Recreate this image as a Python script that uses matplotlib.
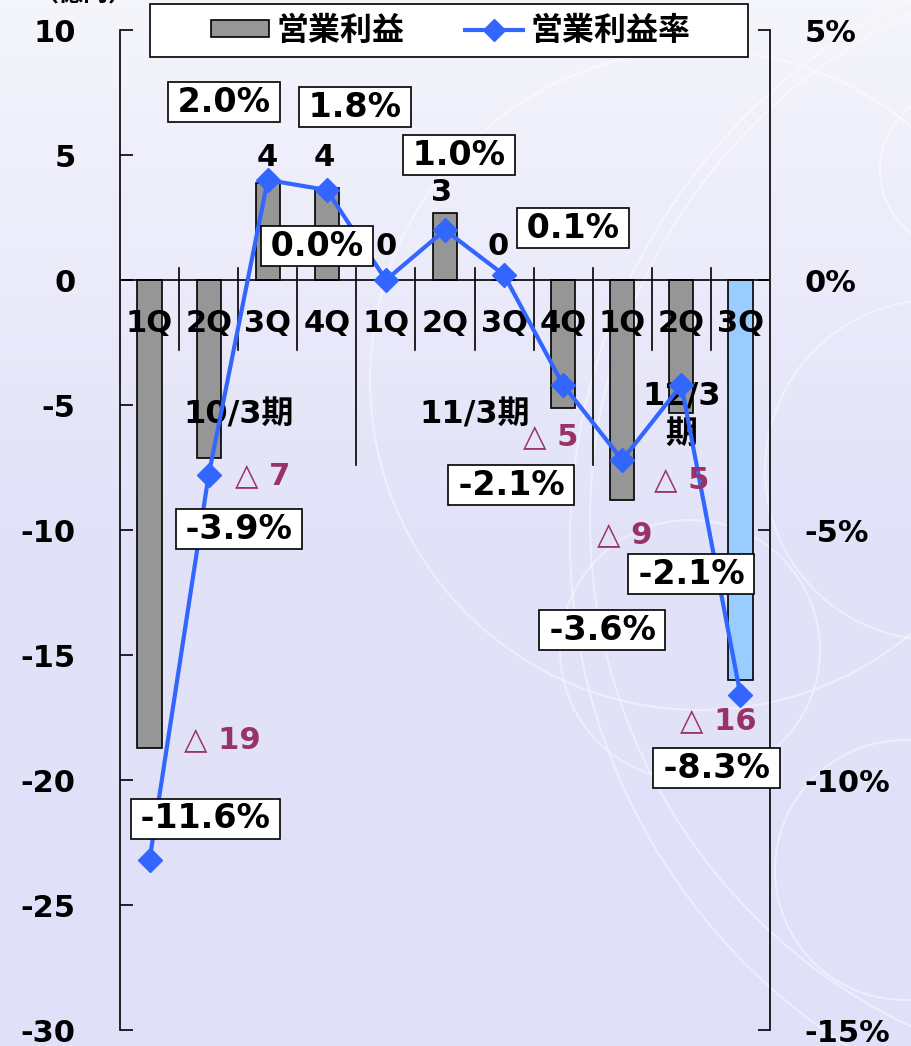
import numpy as np
import matplotlib
matplotlib.use("Agg")
import matplotlib.pyplot as plt
from matplotlib.patches import Patch, Circle, Rectangle
from matplotlib.lines import Line2D
from matplotlib.colors import LinearSegmentedColormap

plt.rcParams['font.family'] = ['DejaVu Sans', 'Noto Sans CJK JP']
plt.rcParams['font.weight'] = 'bold'
plt.rcParams['axes.unicode_minus'] = False

# data
quarters = ['1Q', '2Q', '3Q', '4Q', '1Q', '2Q', '3Q', '4Q', '1Q', '2Q', '3Q']
groups = ['10/3期', '11/3期', '12/3\n期']
group_ranges = [(0, 4), (4, 8), (8, 11)]
profit = [-18.7, -7.1, 3.9, 3.7, 0.0, 2.7, 0.0, -5.1, -8.8, -5.3, -16.0]   # 億円
margin = [-11.6, -3.9, 2.0, 1.8, 0.0, 1.0, 0.1, -2.1, -3.6, -2.1, -8.3]   # %

# label offsets (pixels) relative to the point / bar end
margin_off = [(56, 41), (30, -54), (-44, 78), (28, 83), (-69, 34), (14, 75),
              (69, 47), (-52, -100), (-20, -170), (10, -189), (-24, -73)]
profit_off = [(73, 8), (54, -18), (0, 25), (-3, 30), (0, 34), (-3, 20),
              (-6, 34), (-12, -29), (2, -35), (0, -67), (-22, -41)]

bar_colors = ['#969696'] * 10 + ['#99CCFF']
line_col = '#3366FF'
neg_col = '#993366'

fig = plt.figure(figsize=(9.12, 10.46), dpi=100)

# background
bg = fig.add_axes([0, 0, 1, 1], zorder=-5)
cmap = LinearSegmentedColormap.from_list('bg', ['#F5F5FC', '#E2E2F9', '#E0E0F8'])
grad = np.linspace(0, 1, 256).reshape(-1, 1)
bg.imshow(grad, aspect='auto', cmap=cmap, extent=[0, 912, 1046, 0])
for cx, cy, r in [(960, 170, 80), (935, 470, 170), (905, 870, 130), (690, 650, 130),
                  (1150, 520, 560), (1170, 540, 600), (700, 380, 330)]:
    bg.add_patch(Circle((cx, cy), r, fill=False, ec='white', lw=1.5, alpha=0.45))
bg.set_xlim(0, 912)
bg.set_ylim(1046, 0)
bg.axis('off')

ax = fig.add_axes([120 / 912, 1 - 1030 / 1046, 650 / 912, 1000 / 1046])
ax.patch.set_alpha(0)
x = np.arange(len(quarters))
ax.bar(x, profit, width=0.41, color=bar_colors, edgecolor='black', linewidth=1.2, zorder=3)
ax.set_xlim(-0.5, len(quarters) - 0.5)
ax.set_ylim(-30, 10)
ax.set_yticks(np.arange(-30, 11, 5))
ax.tick_params(axis='y', direction='in', length=9, width=1.2, labelsize=22, pad=32)
ax.tick_params(axis='x', bottom=False, labelbottom=False)
for s in ['top', 'bottom', 'right']:
    ax.spines[s].set_visible(False)
ax.spines['left'].set_linewidth(1.2)
ax.axhline(0, color='black', lw=1.2, zorder=4)

# separators between quarters
bounds = [g[0] for g in group_ranges[1:]]
for i in range(len(quarters) - 1):
    low = -7.4 if (i + 1) in bounds else -2.8
    ax.plot([i + 0.5, i + 0.5], [0.5, low], color='black', lw=1.2, zorder=4)

for i, q in enumerate(quarters):
    ax.annotate(q, (i, 0), xytext=(0, -43), textcoords='offset pixels',
                ha='center', va='center', fontsize=22, fontweight='bold', zorder=6)
for g, (a, b) in zip(groups, group_ranges):
    ax.text((a + b - 1) / 2, -5.4, g, ha='center', va='center', fontsize=23,
            fontweight='bold', linespacing=1.3, zorder=6)

ax2 = ax.twinx()
ax2.set_ylim(-15, 5)
ax2.set_yticks(np.arange(-15, 6, 5))
ax2.set_yticklabels([f'{v}%' for v in range(-15, 6, 5)])
ax2.tick_params(axis='y', direction='in', length=9, width=1.2, labelsize=22, pad=25)
for s in ['top', 'bottom', 'left']:
    ax2.spines[s].set_visible(False)
ax2.spines['right'].set_linewidth(1.2)
ax2.plot(x, margin, color=line_col, lw=3, marker='D', markersize=12, zorder=5)

for i, (m, off) in enumerate(zip(margin, margin_off)):
    ax2.annotate(f'\u2009{m:.1f}%\u2009', (i, m), xytext=off, textcoords='offset pixels',
                 ha='center', va='center', fontsize=24, fontweight='bold', zorder=8,
                 bbox=dict(boxstyle='square,pad=0.1', fc='white', ec='black', lw=1.2))

for i, (p, off) in enumerate(zip(profit, profit_off)):
    if p < 0:
        txt, col = f'\u25b3 {round(-p)}', neg_col
    else:
        txt, col = f'{round(p)}', 'black'
    ax2.annotate(txt, (i, p), xycoords=ax.transData, xytext=off, textcoords='offset pixels',
                 ha='center', va='center', fontsize=22, fontweight='bold', color=col, zorder=7)

fig.text(83 / 912, 1 + 5 / 1046, '（億円）', ha='center', va='center', fontsize=18,
         fontweight='bold', family=['Noto Sans CJK JP'])

# legend: white framed box with centred entries
fig.add_artist(Rectangle((150 / 912, 1 - 57 / 1046), 598 / 912, 53 / 1046,
                         transform=fig.transFigure, fc='white', ec='black', lw=1.2, zorder=10))
handles = [Patch(facecolor='#969696', edgecolor='black', lw=1.2),
           Line2D([], [], color=line_col, lw=3, marker='D', markersize=11)]
leg = fig.legend(handles, ['営業利益', '営業利益率'], loc='center', ncol=2,
                 bbox_to_anchor=(451 / 912, 1 - 31 / 1046), frameon=False,
                 handlelength=1.8, handleheight=0.45, handletextpad=0.25, columnspacing=1.9,
                 borderaxespad=0, borderpad=0,
                 prop={'family': ['Noto Sans CJK JP'], 'weight': 'bold', 'size': 23})
leg.set_zorder(11)

fig.savefig('out.png', dpi=100)
